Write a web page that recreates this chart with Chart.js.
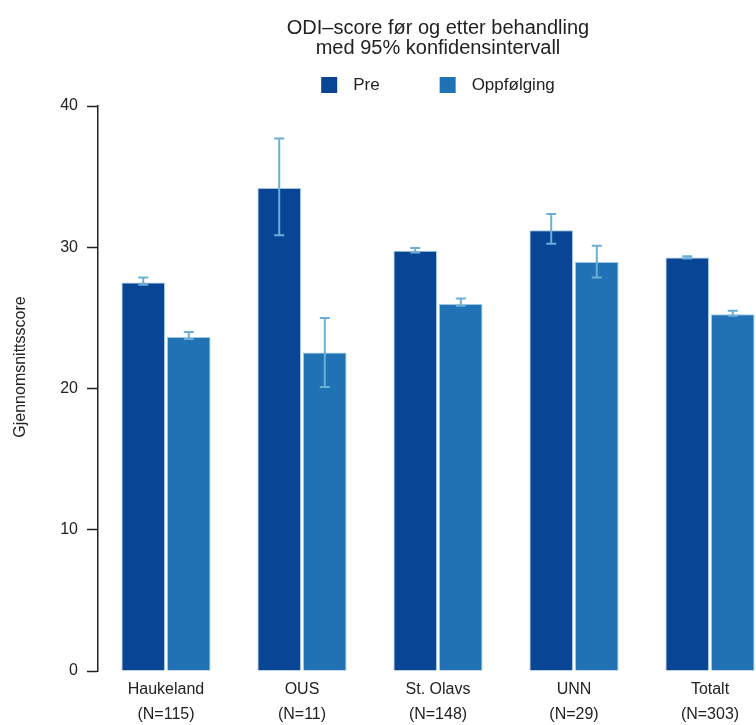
<!DOCTYPE html>
<html>
<head>
<meta charset="utf-8">
<script src="https://cdn.jsdelivr.net/npm/chart.js@4.4.1/dist/chart.umd.min.js"></script>
<style>
  html, body { margin: 0; padding: 0; background: #fff; overflow: hidden; }
  #wrap { width: 780px; height: 725px; position: relative; }
</style>
</head>
<body>
<div id="wrap"><canvas id="odi" width="780" height="725"></canvas></div>
<script>
// ODI score per hospital, before treatment and at follow-up, with 95% CI
const categories = [
  ['Haukeland', '(N=115)'],
  ['OUS', '(N=11)'],
  ['St. Olavs', '(N=148)'],
  ['UNN', '(N=29)'],
  ['Totalt', '(N=303)']
];
const seriesNames = ['Pre', 'Oppfølging'];

const preMean  = [27.5, 34.2, 29.75, 31.2, 29.28];
const preLow   = [27.35, 30.85, 29.62, 30.25, 29.2];
const preHigh  = [27.85, 37.7, 29.95, 32.35, 29.36];

const postMean = [23.65, 22.55, 25.98, 28.95, 25.25];
const postLow  = [23.5, 20.1, 25.85, 27.85, 25.15];
const postHigh = [24.0, 25.0, 26.38, 30.1, 25.5];

const yTicks = [0, 10, 20, 30, 40];

const FONT = '"Liberation Sans", Arial, Helvetica, sans-serif';
const TEXT = '#222';

// whiskers for the confidence intervals, placed through the y scale
const errorBars = {
  id: 'errorBars',
  afterDatasetsDraw(chart) {
    const { ctx } = chart;
    const y = chart.scales.y;
    ctx.save();
    ctx.strokeStyle = '#6baed6';
    ctx.lineWidth = 2;
    chart.data.datasets.forEach((ds, i) => {
      chart.getDatasetMeta(i).data.forEach((bar, j) => {
        const x = bar.x;
        const yl = y.getPixelForValue(ds.ciLow[j]);
        const yh = y.getPixelForValue(ds.ciHigh[j]);
        ctx.beginPath();
        ctx.moveTo(x, yl); ctx.lineTo(x, yh);
        ctx.moveTo(x - 5, yl); ctx.lineTo(x + 5, yl);
        ctx.moveTo(x - 5, yh); ctx.lineTo(x + 5, yh);
        ctx.stroke();
      });
    });
    ctx.restore();
  }
};

// series key under the title
const seriesKey = {
  id: 'seriesKey',
  afterDraw(chart) {
    const { ctx, chartArea } = chart;
    const box = 16, gapText = 16, gapItem = 60, cy = 85;
    ctx.save();
    ctx.font = '17px ' + FONT;
    ctx.textBaseline = 'middle';
    const items = chart.data.datasets.map(ds => ({
      label: ds.label, color: ds.backgroundColor, w: ctx.measureText(ds.label).width
    }));
    let total = 0;
    items.forEach((it, k) => { total += box + gapText + it.w + (k ? gapItem : 0); });
    let x = (chartArea.left + chartArea.right) / 2 - total / 2;
    items.forEach((it, k) => {
      if (k) x += gapItem;
      ctx.fillStyle = it.color;
      ctx.fillRect(x, cy - box / 2, box, box);
      x += box + gapText;
      ctx.fillStyle = TEXT;
      ctx.fillText(it.label, x, cy);
      x += it.w;
    });
    ctx.restore();
  }
};

// rotated y-axis caption
const yCaption = {
  id: 'yCaption',
  afterDraw(chart) {
    const { ctx } = chart;
    ctx.save();
    ctx.translate(21, 367);
    ctx.rotate(-Math.PI / 2);
    ctx.font = '16px ' + FONT;
    ctx.fillStyle = TEXT;
    ctx.textAlign = 'center';
    ctx.textBaseline = 'middle';
    ctx.fillText('Gjennomsnittsscore', 0, 0);
    ctx.restore();
  }
};

new Chart(document.getElementById('odi'), {
  type: 'bar',
  data: {
    labels: categories,
    datasets: [
      {
        label: seriesNames[0], data: preMean, ciLow: preLow, ciHigh: preHigh,
        backgroundColor: '#084594', borderColor: '#9ecae1', borderWidth: 1
      },
      {
        label: seriesNames[1], data: postMean, ciLow: postLow, ciHigh: postHigh,
        backgroundColor: '#2171b5', borderColor: '#9ecae1', borderWidth: 1
      }
    ]
  },
  options: {
    responsive: false,
    devicePixelRatio: 1,
    animation: false,
    categoryPercentage: 0.67,
    barPercentage: 0.956,
    layout: { padding: { left: 0, right: 2, top: 0, bottom: 0 } },
    plugins: {
      legend: { display: false },
      tooltip: { enabled: false },
      title: {
        display: true,
        fullSize: false,
        text: ['ODI\u2013score før og etter behandling', 'med 95% konfidensintervall'],
        color: TEXT,
        font: { family: FONT, size: 20, weight: 'normal', lineHeight: 1.0 },
        padding: { top: 18, bottom: 48 }
      }
    },
    scales: {
      x: {
        offset: true,
        grid: { display: false, drawTicks: false },
        border: { display: false },
        ticks: {
          color: TEXT, maxRotation: 0, autoSkip: false, padding: 6,
          font: { family: FONT, size: 16, lineHeight: 1.5625 }
        },
        afterFit(s) { s.height = 54; }
      },
      y: {
        min: 0, max: 40,
        afterBuildTicks(s) { s.ticks = yTicks.map(v => ({ value: v })); },
        grid: { drawOnChartArea: false, drawTicks: true, tickLength: 11, color: TEXT, tickWidth: 1.5 },
        border: { display: true, color: TEXT, width: 1.5 },
        ticks: {
          color: TEXT, padding: 9,
          font: { family: FONT, size: 16 }
        },
        afterFit(s) { s.width = 98; }
      }
    }
  },
  plugins: [errorBars, seriesKey, yCaption]
});
</script>
</body>
</html>
